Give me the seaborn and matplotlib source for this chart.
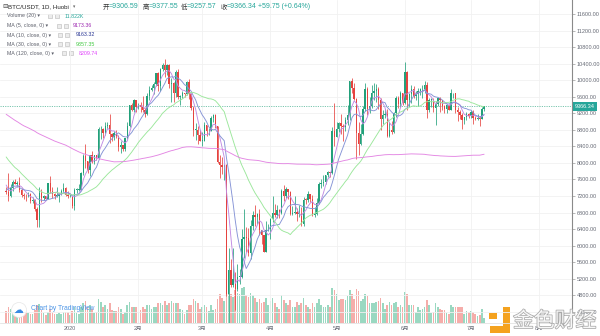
import numpy as np
import pandas as pd
import matplotlib
matplotlib.use("Agg")
import matplotlib.pyplot as plt
import matplotlib.patheffects as pe
from matplotlib.patches import Rectangle, Circle
import seaborn as sns

# ---------------------------------------------------------------- data
symbol = "BTC/USDT, 1D, Huobi"
start_day = "2019-12-03"

# daily closes before the first drawn candle (2019-08-06 .. 2019-12-02), used to seed the moving averages
prior_close = [
    11450, 11950, 11960, 11850, 11280, 11530, 11380, 10890, 10050, 10300, 10350, 10220, 10320,
    10920, 10760, 10130, 10130, 10400, 10160, 10140, 10370, 10180, 9720, 9500, 9580, 9600,
    9760, 10390, 10620, 10590, 10580, 10320, 10500, 10440, 10340, 10120, 10160, 10420, 10360, 10360, 10310,
    10270, 10210, 10190, 10270, 10180, 10020, 10040, 9700, 8530, 8430, 8060, 8200, 8210, 8050, 8300,
    8340, 8390, 8230, 8160, 8150, 7870, 8210, 8180, 8590, 8590, 8270, 8320, 8300, 8370, 8170, 8000,
    8080, 7960, 7960, 8230, 8210, 8030, 7470, 7420, 8660, 9250, 9550, 9250, 9430, 9180, 9150,
    9260, 9300, 9200, 9410, 9320, 9340, 9200, 8770, 8810, 9040, 8730, 8820, 8770, 8630, 8460,
    8490, 8500, 8170, 8120, 8080, 7620, 7290, 7320, 6900, 7110, 7160, 7510, 7420, 7740, 7570,
    7400, 7320,
]

close = [
    # Dec
    7300, 7200, 7390, 7530, 7500, 7520, 7340, 7220, 7200, 7190, 7250, 7070, 7110, 6880, 6620,
    7280, 7150, 7190, 7140, 7510, 7320, 7250, 7200, 7200, 7250, 7310, 7390, 7220, 7190,
    # Jan
    7200, 6950, 7340, 7350, 7350, 7760, 8160, 8040, 7820, 8190, 8020, 8180, 8110, 8810, 8820, 8720,
    8900, 8910, 8700, 8630, 8730, 8660, 8390, 8430, 8340, 8600, 8900, 9390, 9290, 9510, 9350,
    # Feb
    9390, 9340, 9290, 9180, 9620, 9760, 9810, 9910, 10170, 9860, 10270, 10370, 10240, 10360, 9900,
    9930, 9700, 10190, 9600, 9610, 9690, 9670, 9960, 9660, 9320, 8790, 8790, 8670, 8530,
    # Mar
    8530, 8920, 8760, 8760, 9080, 9150, 8900, 8030, 7940, 7890, 7950, 4830, 5400, 5050, 5200, 4950,
    5250, 5250, 6170, 6200, 6180, 5820, 6470, 6740, 6690, 6760, 6370, 6260, 5858.3, 6390, 6410,
    # Apr
    6640, 6800, 6740, 6860, 6780, 7330, 7200, 7370, 7300, 6760, 6790, 6810, 6760, 6770, 6520,
    7110, 7100, 7260, 7130, 6740, 6760, 7030, 7490, 7510, 7540, 7700, 7790, 7760, 8780, 8620,
    # May
    8830, 8970, 8890, 8880, 9030, 9150, 9980, 9810, 9540, 8720, 8450, 8700, 9300, 9790, 9310, 9380,
    9680, 9730, 9780, 9510, 9060, 9170, 9180, 8650, 8800, 8740, 9200, 9580, 9430, 9700, 9450,
    # Jun
    10200, 9520, 9670, 9790, 9620, 9670, 9750, 9780, 9780, 9890, 9270, 9520, 9530, 9330, 9430,
    9570, 9510, 9380, 9300, 9410, 9290, 9680, 9680, 9290, 9240, 9160, 9047.3, 9120, 9190, 9140,
    # Jul
    9230, 9086.4, 9050, 9080, 9063.87, 9306.59, 9366.34,
]

high = [
    7420, 7750, 7480, 7580, 7620, 7570, 7650, 7400, 7270, 7260, 7300, 7270, 7180, 7130, 6940,
    7430, 7370, 7220, 7190, 7520, 7690, 7420, 7270, 7430, 7280, 7360, 7520, 7420, 7320,
    7250, 7210, 7400, 7400, 7490, 7790, 8210, 8460, 8050, 8200, 8290, 8200, 8200, 8880, 8900, 8850,
    9000, 8990, 9190, 8730, 8770, 8790, 8670, 8520, 8440, 8610, 8980, 9400, 9440, 9550, 9530,
    9440, 9480, 9610, 9330, 9700, 9860, 9880, 9950, 10170, 10190, 10300, 10420, 10500, 10390, 10380,
    10050, 9960, 10250, 10280, 9650, 9750, 9700, 9990, 10020, 9680, 9380, 8970, 8900, 8800,
    8750, 8980, 8920, 8840, 9140, 9180, 9190, 8900, 8180, 8150, 7980, 7970, 5950, 5670, 5950, 5370,
    5560, 5440, 6400, 6880, 6460, 6420, 6620, 6840, 6990, 6800, 6880, 6380, 6270, 6600, 6520,
    6680, 7200, 7000, 6990, 6880, 7360, 7470, 7420, 7380, 7320, 6950, 7200, 6920, 6990, 6940,
    7180, 7150, 7310, 7260, 7220, 6940, 7150, 7550, 7600, 7700, 7720, 7800, 7790, 8880, 9460,
    9000, 9000, 9190, 8950, 9100, 9390, 9990, 10050, 9920, 9580, 9000, 8940, 9370, 9920, 9840, 9590,
    9880, 9930, 9900, 9840, 9560, 9270, 9310, 9300, 8980, 9010, 9220, 9620, 9610, 9740, 9700,
    10430, 10230, 9690, 9880, 9850, 9730, 9800, 9800, 9880, 9990, 9950, 9560, 9560, 9560, 9500,
    9580, 9590, 9530, 9400, 9430, 9430, 9780, 9690, 9700, 9340, 9280, 9200, 9120, 9230, 9200,
    9290, 9270, 9130, 9180, 9140, 9350, 9377.55,
]

low = [
    7240, 7080, 7170, 7320, 7480, 7430, 7290, 7170, 7130, 7080, 7180, 7040, 7030, 6850, 6450,
    6440, 7050, 7100, 7120, 7130, 7270, 7160, 7130, 7170, 7060, 7230, 7290, 7200, 7150,
    7170, 6920, 6870, 7270, 7320, 7340, 7720, 7870, 7760, 7680, 7990, 7970, 8060, 8100, 8570, 8610,
    8680, 8810, 8470, 8520, 8560, 8610, 8290, 8240, 8300, 8280, 8590, 8880, 9250, 9230, 9220,
    9300, 9240, 9230, 9100, 9160, 9530, 9730, 9660, 9870, 9740, 9730, 10230, 10080, 10120, 9810,
    9480, 9470, 9600, 9550, 9410, 9570, 9590, 9650, 9540, 9280, 8660, 8550, 8460, 8520,
    8420, 8520, 8660, 8670, 8760, 8990, 8850, 8000, 7630, 7730, 7590, 4780, 3800, 5000, 5000, 4440,
    4900, 5080, 5230, 5690, 5850, 5760, 5680, 6380, 6470, 6530, 6270, 6030, 5840, 5850, 6350,
    6150, 6570, 6700, 6660, 6680, 6770, 7080, 7150, 7120, 6740, 6740, 6770, 6600, 6700, 6480,
    6480, 7010, 7060, 7060, 6720, 6700, 6740, 7010, 7390, 7450, 7480, 7660, 7650, 7730, 8420,
    8620, 8750, 8710, 8530, 8760, 8920, 9040, 9700, 9520, 8100, 8200, 8430, 8680, 9260, 9150, 9210,
    9330, 9510, 9470, 9300, 8800, 8940, 9080, 8630, 8620, 8700, 8720, 9110, 9330, 9350, 9400,
    9420, 9270, 9380, 9450, 9580, 9530, 9380, 9640, 9560, 9690, 9080, 9230, 9340, 9240, 8910,
    9370, 9230, 9280, 9200, 9200, 9270, 9280, 9570, 9200, 9010, 9050, 8830, 8940, 9030, 9090,
    9080, 8940, 9030, 9040, 8900, 9050, 9257.57,
]

# daily volume, thousands of BTC
volume = [
    30, 40, 34, 32, 25, 23, 30, 27, 26, 27, 25, 23, 22, 32, 43, 46, 32, 25, 19, 27, 35, 27, 22, 23, 25, 22, 27, 28, 26,
    20, 30, 40, 25, 23, 38, 48, 55, 38, 43, 34, 25, 27, 60, 52, 40, 45, 35, 48, 32, 30, 30, 38, 34, 22, 27, 43, 52, 38, 40, 40,
    27, 32, 38, 35, 45, 45, 35, 38, 40, 48, 48, 45, 55, 43, 48, 53, 50, 48, 50, 35, 32, 22, 32, 43, 45, 58, 53, 50, 35,
    38, 43, 38, 30, 43, 32, 35, 60, 72, 62, 55, 98, 95, 70, 64, 82, 74, 70, 86, 88, 68, 64, 74, 68, 62, 52, 58, 50, 52, 62, 45,
    54, 62, 50, 40, 35, 68, 56, 48, 45, 56, 40, 40, 52, 43, 48, 62, 43, 38, 35, 50, 40, 50, 60, 43, 38, 40, 45, 40, 86, 82,
    70, 56, 60, 58, 56, 66, 80, 72, 58, 84, 78, 54, 60, 72, 65, 50, 48, 50, 52, 54, 62, 48, 35, 45, 52, 43, 48, 52, 40, 45, 40,
    76, 72, 43, 45, 43, 27, 38, 32, 35, 38, 56, 43, 24, 27, 48, 40, 35, 32, 32, 24, 22, 45, 38, 40, 40, 38, 38, 22, 30, 27,
    30, 27, 22, 16, 19, 35, 11.822,
]

ma_periods = [5, 10, 30, 120]
price_ticks = list(range(4400, 11601, 400))
month_days = [0, 31, 60, 91, 121, 152, 182, 213]
month_labels = ["2020", "2月", "3月", "4月", "5月", "6月", "7月", "8月"]

# ---------------------------------------------------------------- derived series
close_a = np.array(close, dtype=float)
high_a = np.array(high, dtype=float)
low_a = np.array(low, dtype=float)
vol_a = np.array(volume, dtype=float)
open_a = np.r_[prior_close[-1], close_a[:-1]]

dates = pd.date_range(start_day, periods=len(close_a), freq="D")
day = (dates - pd.Timestamp("2020-01-01")).days.to_numpy().astype(float)

all_close = pd.Series(list(prior_close) + list(close_a))
ma = {n: all_close.rolling(n).mean().to_numpy()[len(prior_close):] for n in ma_periods}

UP, DOWN = "#22a07a", "#e5433f"
VUP, VDOWN = "#9ad8c1", "#f5adaa"
ma_line_colors = {"MA5": "#c08be3", "MA10": "#8593d6", "MA30": "#9be79b", "MA120": "#e386e3"}
ma_text_colors = {5: "#9c27b0", 10: "#283593", 30: "#43c943", 120: "#e040fb"}

# ---------------------------------------------------------------- figure
sns.set_theme(style="white")
plt.rcParams["font.family"] = ["Liberation Sans", "Noto Sans CJK SC", "DejaVu Sans"]

W, H = 600, 336
fig = plt.figure(figsize=(W / 100, H / 100), dpi=100)
fig.patch.set_facecolor("white")

pane = [0, 13 / H, 572 / W, 323 / H]
axv = fig.add_axes(pane)
ax = fig.add_axes(pane, sharex=axv)
axv.set_zorder(0)
ax.set_zorder(1)
ax.patch.set_alpha(0)

# volume histogram in the lower part of the pane
up = close_a >= open_a
axv.bar(day, vol_a, width=0.74, color=np.where(up, VUP, VDOWN), linewidth=0)
axv.set_ylim(0, vol_a.max() * 323 / 40)
axv.axis("off")

# candles
cols = np.where(up, UP, DOWN)
ax.vlines(day, low_a, high_a, colors=cols, linewidth=0.55, zorder=3)
body_lo = np.minimum(open_a, close_a)
body_h = np.maximum(np.abs(close_a - open_a), 18)
ax.bar(day, body_h, bottom=body_lo, width=0.62, color=cols, linewidth=0, zorder=4)

# moving averages
ma_df = pd.concat(
    [pd.DataFrame({"day": day, "value": ma[n], "line": f"MA{n}"}) for n in ma_periods],
    ignore_index=True,
)
sns.lineplot(data=ma_df, x="day", y="value", hue="line", palette=ma_line_colors,
             linewidth=0.65, legend=False, ax=ax, estimator=None, sort=False)
for ln in ax.lines:
    ln.set_zorder(5)

# last price line and marker
last = close_a[-1]
ax.axhline(last, color=UP, lw=0.7, ls=(0, (1.2, 1.2)), alpha=0.6, zorder=2)
ax.annotate(f"{last:.2f}", xy=(1.0, last), xycoords=("axes fraction", "data"),
            xytext=(2.2, 0), textcoords="offset points", va="center", ha="left",
            fontsize=4, color="white", annotation_clip=False,
            bbox=dict(boxstyle="square,pad=0.35", fc="#26a69a", ec="none"))

ax.set_xlim(-31.8, 227.9)
ax.set_ylim(4131, 11938)
ax.set_xlabel("")
ax.set_ylabel("")
ax.yaxis.tick_right()
ax.set_yticks(price_ticks)
ax.set_yticklabels([f"{t:.2f}" for t in price_ticks])
ax.set_xticks(month_days)
ax.set_xticklabels(month_labels)
ax.tick_params(axis="y", length=2, width=0.5, color="#9a9a9a", labelsize=4,
               labelcolor="#666a75", pad=1.2, right=True, left=False)
ax.tick_params(axis="x", length=0, labelsize=4, labelcolor="#666a75", pad=2.2)
ax.set_axisbelow(True)
ax.grid(True, color="#f1f1f1", lw=0.6)
for s in ("top", "left"):
    ax.spines[s].set_visible(False)
ax.spines["right"].set_color("#8a8a8a")
ax.spines["right"].set_linewidth(0.8)
ax.spines["bottom"].set_color("#e3e3e3")
ax.spines["bottom"].set_linewidth(0.6)


def put(xpx, ypx, s, size, color, **kw):
    fig.text(xpx / W, 1 - ypx / H, s, fontsize=size, color=color, va="center", ha="left", **kw)


def box(xpx, ypx, w, h, **kw):
    fig.add_artist(Rectangle((xpx / 100, (H - ypx - h) / 100), w / 100, h / 100,
                             transform=fig.dpi_scale_trans, **kw))


# header line
hdr = 5.0
put(2, 7, "⊟", 4.6, "#444444", family=["DejaVu Sans"])
put(8, 7, symbol, 4.4, "#222222")
put(73, 7, "▾", 3.3, "#666666", family=["DejaVu Sans"])
prev_close = open_a[-1]
for xs, lab, val in [(103, "开", open_a[-1]), (143, "高", high_a[-1]),
                     (181, "低", low_a[-1]), (221, "收", last)]:
    put(xs, 7, lab, 4.6, "#333333")
    put(xs + 6, 7, f"={val:.2f}", hdr, "#26a69a")
chg = last - prev_close
put(258, 7, f"{chg:+.2f} ({chg / prev_close * 100:+.2f}%)", hdr, "#26a69a")

# indicator legend rows
rows = [
    ("Volume (20)", 16, 48, 65, f"{vol_a[-1]:.3f}K", "#26a69a"),
    ("MA (5, close, 0)", 25.7, 57, 73, f"{ma[5][-1]:.2f}", ma_text_colors[5]),
    ("MA (10, close, 0)", 35, 58, 76, f"{ma[10][-1]:.2f}", ma_text_colors[10]),
    ("MA (30, close, 0)", 44.3, 58, 76, f"{ma[30][-1]:.2f}", ma_text_colors[30]),
    ("MA (120, close, 0)", 53.3, 62, 79, f"{ma[120][-1]:.2f}", ma_text_colors[120]),
]
for lab, y, bx, vx, val, vc in rows:
    put(7, y, lab + " ▾", 3.8, "#5d606b", family=["Liberation Sans", "DejaVu Sans"])
    box(bx, y - 2, 4, 4, fc="#ececec", ec="#b8b8b8", lw=0.4)
    box(bx + 6.5, y - 2, 4, 4, fc="#ececec", ec="#b8b8b8", lw=0.4)
    put(vx, y, val, 3.8, vc)

# TradingView badge
fig.add_artist(Circle((19 / 100, (H - 310) / 100), 0.075, transform=fig.dpi_scale_trans,
                      fc="white", ec="#e6e6e6", lw=0.5))
put(13.5, 310, "☁", 7, "#3a8be3", family=["DejaVu Sans"])
put(31, 309, "Chart by TradingView", 4.8, "#4b94e6")

# 金色财经 watermark
orange = "#f4a21f"
box(489, 313, 8, 6, fc=orange, ec="none")
box(503, 307, 6.5, 26, fc=orange, ec="none")
box(490, 326, 19.5, 7, fc=orange, ec="none")
fig.text(513 / W, 1 - 321 / H, "金色财经", fontsize=15, color="#f7f7f7", va="center", ha="left",
         family=["Noto Sans CJK SC"],
         path_effects=[pe.withStroke(linewidth=1.1, foreground="#a9a9a9")])

fig.savefig("out.png", dpi=100, facecolor="white")
